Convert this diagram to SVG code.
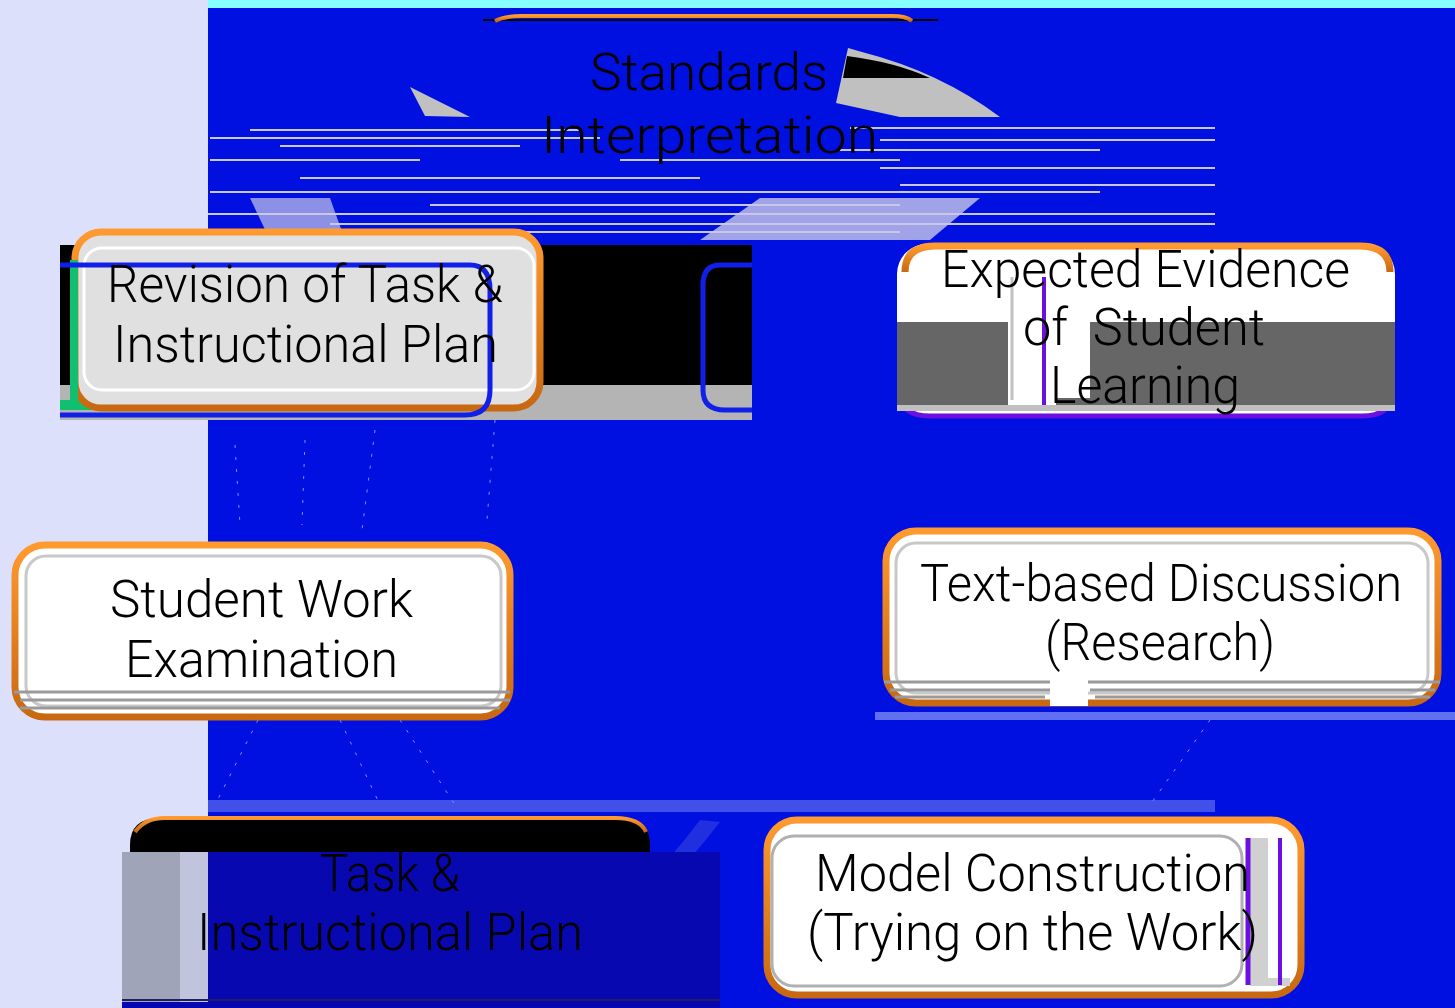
<svg xmlns="http://www.w3.org/2000/svg" width="1455" height="1008" viewBox="0 0 1455 1008">
<style>
.lbl{font-family:Roboto,"Liberation Sans",sans-serif;font-weight:300;font-size:52px;fill:#000}
.gl{stroke:#c8c8dc;stroke-width:2}
.gs{stroke:#9a9a9a;stroke-width:3}
</style>
<defs>
<linearGradient id="og" x1="0" y1="0" x2="0" y2="1">
<stop offset="0" stop-color="#ff9a30"/><stop offset="1" stop-color="#c86810"/>
</linearGradient>
</defs>
<rect width="1455" height="1008" fill="#0010e0"/>
<rect x="0" y="0" width="208" height="1008" fill="#dde0fb"/>
<rect x="208" y="0" width="1247" height="8" fill="#88ffff"/>
<g id="connectors">
<path d="M410,87 L470,117 L425,116 Z" fill="#c0c0c0"/>
<path d="M848,48 L862,52 Q940,72 1000,117 L900,117 L836,103 Z" fill="#c0c0c0"/>
<path d="M847,56 Q895,62 930,78 L843,78 Z" fill="#000"/>
<g class="gl">
<line x1="250" y1="130" x2="580" y2="130"/><line x1="210" y1="138" x2="600" y2="138"/>
<line x1="280" y1="146" x2="520" y2="146"/><line x1="850" y1="128" x2="1215" y2="128"/>
<line x1="880" y1="140" x2="1215" y2="140"/><line x1="840" y1="150" x2="1100" y2="150"/>
<line x1="210" y1="160" x2="420" y2="160"/><line x1="620" y1="160" x2="900" y2="160"/>
<line x1="880" y1="168" x2="1215" y2="168"/><line x1="300" y1="178" x2="700" y2="178"/>
<line x1="900" y1="185" x2="1215" y2="185"/><line x1="210" y1="192" x2="1100" y2="192"/>
<line x1="430" y1="205" x2="900" y2="205"/><line x1="208" y1="214" x2="1215" y2="214"/>
<line x1="330" y1="224" x2="1215" y2="224"/><line x1="208" y1="232" x2="900" y2="232"/>
</g>
<path d="M760,198 L980,198 L930,240 L700,240 Z" fill="#c8c8e8" opacity="0.8"/>
<path d="M250,198 L330,198 L345,240 L270,240 Z" fill="#c8c8e8" opacity="0.7"/>
<rect x="208" y="800" width="1007" height="12" fill="#4050e8"/>
<path d="M700,820 Q640,900 560,960 L580,962 Q660,900 720,822 Z" fill="#2030e0"/>
<g stroke="#8090f0" stroke-width="1" stroke-dasharray="3 9" fill="none">
<line x1="235" y1="445" x2="240" y2="525"/><line x1="305" y1="440" x2="302" y2="525"/>
<line x1="375" y1="430" x2="362" y2="530"/><line x1="495" y1="420" x2="487" y2="520"/>
<line x1="258" y1="720" x2="215" y2="805"/><line x1="340" y1="720" x2="380" y2="805"/>
<line x1="400" y1="720" x2="455" y2="805"/><line x1="1210" y1="720" x2="1150" y2="805"/>
</g>
</g>
<g id="n-standards">
<line x1="483" y1="20" x2="938" y2="20" stroke="#000" stroke-width="2"/>
<path d="M495,21 Q505,16 522,16 L892,16 Q906,16 912,21" fill="none" stroke="url(#og)" stroke-width="4"/>
<text class="lbl" x="590" y="90" textLength="238" lengthAdjust="spacingAndGlyphs">Standards</text>
<text class="lbl" x="541" y="153" textLength="337" lengthAdjust="spacingAndGlyphs">Interpretation</text>
</g>
<g id="n-revision">
<rect x="60" y="245" width="692" height="142" fill="#000"/>
<rect x="60" y="385" width="692" height="35" fill="#b4b4b4"/>
<rect x="60" y="400" width="430" height="10" fill="#10c070"/>
<rect x="75" y="232" width="465" height="176" rx="26" fill="#e0e0e0" stroke="url(#og)" stroke-width="7"/>
<rect x="70" y="260" width="8" height="140" fill="#10c070"/>
<rect x="84" y="248" width="450" height="142" rx="18" fill="#e0e0e0" stroke="#ffffff" stroke-width="3"/>
<path d="M60,265 L470,265 Q490,265 490,290 L490,390 Q490,415 465,415 L60,415" fill="none" stroke="#1020e8" stroke-width="5"/>
<path d="M752,265 L720,265 Q703,265 703,285 L703,390 Q703,410 725,410 L752,410" fill="none" stroke="#1020e8" stroke-width="5"/>
<text class="lbl" x="107" y="302" textLength="396" lengthAdjust="spacingAndGlyphs">Revision of Task &amp;</text>
<text class="lbl" x="113" y="362" textLength="385" lengthAdjust="spacingAndGlyphs">Instructional Plan</text>
</g>
<g id="n-expected">
<rect x="897" y="244" width="498" height="172" rx="30" fill="#ffffff"/>
<path d="M900,392 Q900,416 930,416 L1362,416 Q1392,416 1392,392" fill="none" stroke="#6a10e0" stroke-width="5"/>
<path d="M905,272 Q905,246 935,246 L1360,246 Q1390,246 1390,272" fill="none" stroke="url(#og)" stroke-width="7"/>
<rect x="897" y="322" width="498" height="83" fill="#666666"/>
<rect x="1008" y="322" width="48" height="88" fill="#ffffff"/>
<rect x="1056" y="322" width="34" height="76" fill="#ffffff"/>
<line x1="1044" y1="277" x2="1044" y2="410" stroke="#6a10e0" stroke-width="4"/>
<line x1="1012" y1="277" x2="1012" y2="400" stroke="#c0c0c0" stroke-width="3"/>
<rect x="897" y="405" width="498" height="6" fill="#c0c0c0"/>
<text class="lbl" x="941" y="287" textLength="409" lengthAdjust="spacingAndGlyphs">Expected Evidence</text>
<text class="lbl" x="1023" y="345" textLength="242" lengthAdjust="spacingAndGlyphs">of&#160; Student</text>
<text class="lbl" x="1050" y="403" textLength="190" lengthAdjust="spacingAndGlyphs">Learning</text>
</g>
<g id="n-studentwork">
<rect x="15" y="545" width="495" height="172" rx="30" fill="#ffffff" stroke="url(#og)" stroke-width="7"/>
<rect x="26" y="556" width="475" height="150" rx="20" fill="#ffffff" stroke="#c8c8c8" stroke-width="3"/>
<g class="gs"><line x1="14" y1="692" x2="510" y2="692"/><line x1="20" y1="700" x2="510" y2="700"/><line x1="20" y1="708" x2="500" y2="708"/></g>
<text class="lbl" x="110" y="617" textLength="303" lengthAdjust="spacingAndGlyphs">Student Work</text>
<text class="lbl" x="125" y="677" textLength="273" lengthAdjust="spacingAndGlyphs">Examination</text>
</g>
<g id="n-textbased">
<rect x="886" y="531" width="552" height="172" rx="30" fill="#ffffff" stroke="url(#og)" stroke-width="7"/>
<rect x="896" y="543" width="532" height="150" rx="20" fill="#ffffff" stroke="#c8c8c8" stroke-width="3"/>
<g class="gs"><line x1="884" y1="682" x2="1440" y2="682"/><line x1="890" y1="690" x2="1050" y2="690"/><line x1="1090" y1="690" x2="1435" y2="690"/><line x1="895" y1="697" x2="1045" y2="697"/><line x1="1095" y1="697" x2="1430" y2="697"/></g>
<rect x="1050" y="680" width="38" height="26" fill="#ffffff"/>
<rect x="875" y="712" width="580" height="8" fill="#6070f0"/>
<text class="lbl" x="920" y="601" textLength="482" lengthAdjust="spacingAndGlyphs">Text-based Discussion</text>
<text class="lbl" x="1045" y="660" textLength="230" lengthAdjust="spacingAndGlyphs">(Research)</text>
</g>
<g id="n-task">
<path d="M130,852 L130,845 Q130,818 160,818 L620,818 Q650,818 650,845 L650,852 Z" fill="#000"/>
<path d="M135,832 Q145,818 165,818 L615,818 Q640,818 646,832" fill="none" stroke="url(#og)" stroke-width="4"/>
<rect x="122" y="852" width="598" height="156" fill="#0808b0"/>
<rect x="122" y="852" width="58" height="150" fill="#a0a4b8"/>
<rect x="180" y="852" width="28" height="150" fill="#c0c4dc"/>
<line x1="122" y1="1000" x2="720" y2="1000" stroke="#202060" stroke-width="2"/>
<text class="lbl" x="320" y="891" textLength="140" lengthAdjust="spacingAndGlyphs">Task &amp;</text>
<text class="lbl" x="197" y="950" textLength="386" lengthAdjust="spacingAndGlyphs">Instructional Plan</text>
</g>
<g id="n-model">
<rect x="767" y="820" width="534" height="175" rx="30" fill="#ffffff" stroke="url(#og)" stroke-width="7"/>
<rect x="1250" y="838" width="40" height="148" fill="#d0d0d0"/>
<rect x="1268" y="838" width="22" height="140" fill="#ffffff"/>
<line x1="1248" y1="838" x2="1248" y2="985" stroke="#6a10e0" stroke-width="5"/>
<line x1="1280" y1="838" x2="1280" y2="985" stroke="#6a10e0" stroke-width="4"/>
<rect x="772" y="836" width="470" height="150" rx="22" fill="#ffffff" stroke="#b0b0b0" stroke-width="3"/>
<text class="lbl" x="815" y="891" textLength="435" lengthAdjust="spacingAndGlyphs">Model Construction</text>
<text class="lbl" x="807" y="950" textLength="451" lengthAdjust="spacingAndGlyphs">(Trying on the Work)</text>
</g>
</svg>
